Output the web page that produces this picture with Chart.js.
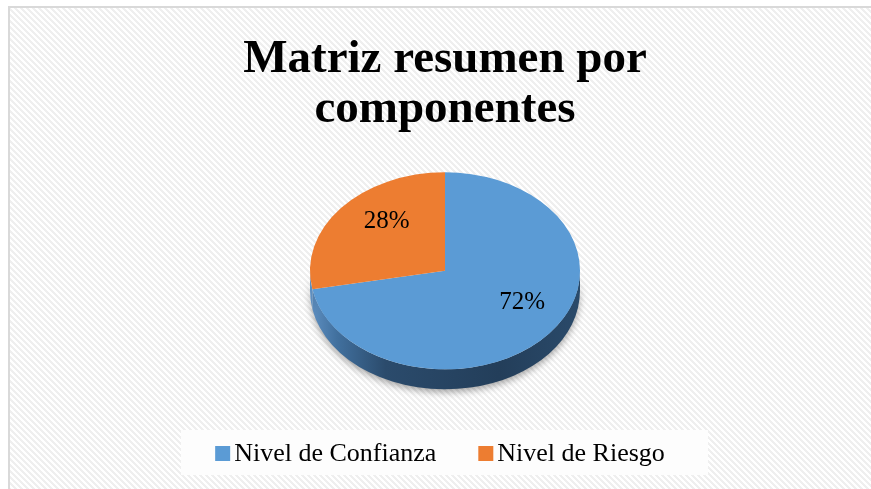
<!DOCTYPE html>
<html>
<head>
<meta charset="utf-8">
<script src="https://cdn.jsdelivr.net/npm/chart.js@4/dist/chart.umd.min.js"></script>
<style>
  html, body { margin: 0; padding: 0; background: #fff; overflow: hidden; }
  #wrap { width: 871px; height: 489px; }
  #c { display: block; }
</style>
</head>
<body>
<div id="wrap"><canvas id="c" width="871" height="489"></canvas></div>
<script>
// Data
const categories = ['Nivel de Confianza', 'Nivel de Riesgo'];
const shares = [72, 28];
const titleLines = ['Matriz resumen por', 'componentes'];

// Styles
const sliceColors = ['#5b9bd5', '#ed7d31'];
const SERIF = "'Liberation Serif', 'Times New Roman', serif";
const TILT = 0.73;             // vertical squash of the pie top
const DEPTH = 20;              // thickness of the pie wall in px
const PERSP = 0.15;            // perspective shift used to seat the labels
const LABEL_RADIUS = [0.7, 0.6]; // label distance from centre, per slice

Chart.defaults.font.family = SERIF;

// Diagonal hatch tile for the chart background
function hatchPattern(ctx) {
  const n = 6;
  const tile = document.createElement('canvas');
  tile.width = n; tile.height = n;
  const t = tile.getContext('2d');
  const img = t.createImageData(n, n);
  for (let y = 0; y < n; y++) {
    for (let x = 0; x < n; x++) {
      const on = (((x - y) % n) + n) % n < 3;
      const v = on ? 239 : 255;
      const i = (y * n + x) * 4;
      img.data[i] = v; img.data[i + 1] = v; img.data[i + 2] = v; img.data[i + 3] = 255;
    }
  }
  t.putImageData(img, 0, 0);
  return ctx.createPattern(tile, 'repeat');
}

const backgroundPlugin = {
  id: 'hatchBackground',
  beforeDraw(chart) {
    const { ctx, width, height } = chart;
    ctx.save();
    ctx.fillStyle = '#ffffff';
    ctx.fillRect(0, 0, width, height);
    ctx.fillStyle = hatchPattern(ctx);
    ctx.fillRect(9, 7, width, height);
    ctx.strokeStyle = '#d9d9d9';
    ctx.lineWidth = 2;
    ctx.strokeRect(9, 7, width + 10, height + 10);
    ctx.restore();
  }
};

// Tilted pie: draws the wall under the slices and squashes the top face
const pie3dPlugin = {
  id: 'pie3d',
  beforeDatasetsDraw(chart) {
    const { ctx } = chart;
    const arcs = chart.getDatasetMeta(0).data;
    if (!arcs.length) return;
    const cx = arcs[0].x, cy = arcs[0].y, r = arcs[0].outerRadius;
    const ry = r * TILT;

    ctx.save();
    const grad = ctx.createLinearGradient(cx - r, 0, cx + r, 0);
    grad.addColorStop(0.00, '#5f90c2');
    grad.addColorStop(0.10, '#41709e');
    grad.addColorStop(0.28, '#2b4b6c');
    grad.addColorStop(0.70, '#233e5a');
    grad.addColorStop(1.00, '#2a4a6a');

    arcs.forEach((arc) => {
      const s = arc.startAngle, e = arc.endAngle;
      for (let k = -1; k <= 1; k++) {
        const lo = Math.max(s, 2 * Math.PI * k);
        const hi = Math.min(e, 2 * Math.PI * k + Math.PI);
        if (hi <= lo) continue;
        ctx.beginPath();
        ctx.ellipse(cx, cy, r, ry, 0, lo, hi, false);
        ctx.ellipse(cx, cy + DEPTH, r, ry, 0, hi, lo, true);
        ctx.closePath();
        ctx.shadowColor = 'rgba(0,0,0,0.35)';
        ctx.shadowBlur = 7;
        ctx.shadowOffsetY = 3;
        ctx.fillStyle = grad;
        ctx.fill();
      }
    });
    ctx.restore();

    ctx.save();
    ctx.translate(cx, cy);
    ctx.scale(1, TILT);
    ctx.translate(-cx, -cy);
  },
  afterDatasetsDraw(chart) {
    const { ctx } = chart;
    ctx.restore();
    const meta = chart.getDatasetMeta(0);
    const values = chart.data.datasets[0].data;
    ctx.save();
    ctx.fillStyle = '#000';
    ctx.font = '25px ' + SERIF;
    ctx.textAlign = 'center';
    ctx.textBaseline = 'middle';
    meta.data.forEach((arc, i) => {
      const mid = (arc.startAngle + arc.endAngle) / 2;
      const f = LABEL_RADIUS[i];
      const u = Math.cos(mid) * f, v = Math.sin(mid) * f;
      const den = 1 - PERSP * v;
      const up = u * Math.sqrt(1 - PERSP * PERSP) / den;
      const vp = (v - PERSP) / den;
      const x = arc.x + up * arc.outerRadius;
      const y = arc.y + vp * arc.outerRadius * TILT;
      ctx.fillText(values[i] + '%', x, y);
    });
    ctx.restore();
  }
};

// Legend in a white panel under the pie
const legendPlugin = {
  id: 'boxLegend',
  afterDraw(chart) {
    const { ctx } = chart;
    const labels = chart.data.labels;
    const colors = chart.data.datasets[0].backgroundColor;
    ctx.save();
    ctx.fillStyle = '#fdfdfd';
    ctx.fillRect(181, 430, 527, 45);
    ctx.font = '26px ' + SERIF;
    ctx.textBaseline = 'alphabetic';
    const box = 15, gapText = 4, gapItem = 42;
    const widths = labels.map(l => ctx.measureText(l).width);
    const total = widths.reduce((a, w) => a + box + gapText + w, 0) + gapItem * (labels.length - 1);
    let x = 440 - total / 2;
    labels.forEach((l, i) => {
      ctx.fillStyle = colors[i];
      ctx.fillRect(x, 446, box, box);
      ctx.fillStyle = '#000';
      ctx.fillText(l, x + box + gapText, 461);
      x += box + gapText + widths[i] + gapItem;
    });
    ctx.restore();
  }
};

new Chart(document.getElementById('c'), {
  type: 'pie',
  data: {
    labels: categories,
    datasets: [{
      data: shares,
      backgroundColor: sliceColors,
      borderWidth: 0,
      radius: 135,
      clip: false
    }]
  },
  options: {
    responsive: false,
    animation: false,
    events: [],
    layout: { padding: { left: 100, right: 81, top: 0, bottom: 82 } },
    plugins: {
      legend: { display: false },
      tooltip: { enabled: false },
      title: {
        display: true,
        text: titleLines,
        color: '#000',
        font: { family: SERIF, size: 47, weight: 'bold', lineHeight: 1.06 },
        padding: { top: 35, bottom: 0 }
      }
    }
  },
  plugins: [backgroundPlugin, pie3dPlugin, legendPlugin]
});
</script>
</body>
</html>
